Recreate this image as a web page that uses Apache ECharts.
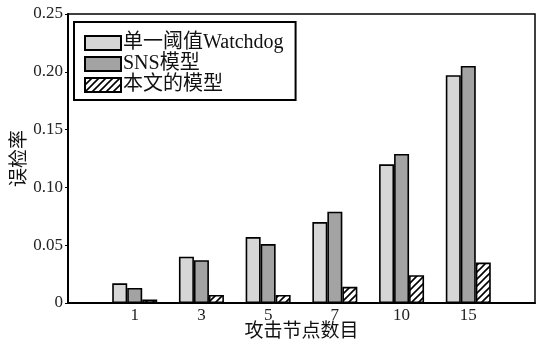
<!DOCTYPE html>
<html>
<head>
<meta charset="utf-8">
<script src="https://cdn.jsdelivr.net/npm/echarts@6/dist/echarts.min.js"></script>
<style>
  html, body { margin: 0; padding: 0; background: #fff; }
  #chart { width: 536px; height: 349px; }
</style>
</head>
<body>
<div id="chart"></div>
<script>
// Attack node counts (padded with empty slots at both ends)
const categories = ['', '1', '3', '5', '7', '10', '15', ''];
const watchdogRate = [null, 0.017, 0.040, 0.057, 0.070, 0.120, 0.197, null];
const snsRate      = [null, 0.013, 0.037, 0.051, 0.079, 0.129, 0.205, null];
const oursRate     = [null, 0.003, 0.007, 0.007, 0.014, 0.024, 0.035, null];
const seriesNames = ['单一阈值Watchdog', 'SNS模型', '本文的模型'];
const yTicks = [0, 0.05, 0.10, 0.15, 0.20, 0.25];

// diagonal hatch fill
function hatch() {
  const c = document.createElement('canvas');
  c.width = 7; c.height = 7;
  const g = c.getContext('2d');
  g.fillStyle = '#fff';
  g.fillRect(0, 0, 7, 7);
  g.strokeStyle = '#000';
  g.lineWidth = 1.6;
  g.beginPath();
  g.moveTo(-1, 8); g.lineTo(8, -1);
  g.moveTo(-4.5, 4.5); g.lineTo(4.5, -4.5);
  g.moveTo(2.5, 11.5); g.lineTo(11.5, 2.5);
  g.stroke();
  return c;
}

const serif = '"Liberation Serif", "Noto Sans CJK SC", serif';
const chart = echarts.init(document.getElementById('chart'));

function bar(name, data, fill) {
  return {
    name, type: 'bar', data,
    barWidth: 15, barGap: '0%',
    itemStyle: { color: fill, borderColor: '#000', borderWidth: 1.6 },
    emphasis: { disabled: true }
  };
}

chart.setOption({
  animation: false,
  grid: {
    left: 68, top: 14, right: 1, bottom: 46,
    outerBoundsMode: 'none', containLabel: false,
    show: true, borderColor: '#000', borderWidth: 1.5
  },
  legend: {
    orient: 'vertical', left: 74, top: 22,
    icon: 'rect',
    itemWidth: 36, itemHeight: 14, itemGap: 1,
    padding: [11, 12, 5, 10],
    borderColor: '#000', borderWidth: 2,
    itemStyle: { borderColor: '#000', borderWidth: 2 },
    textStyle: { fontFamily: serif, fontSize: 20, color: '#111', lineHeight: 18, padding: [0, 0, 0, -3] },
    data: seriesNames
  },
  xAxis: {
    type: 'category', data: categories, boundaryGap: false,
    name: '攻击节点数目', nameLocation: 'middle', nameGap: 20, nameMoveOverlap: false,
    nameTextStyle: { fontFamily: serif, fontSize: 19, color: '#111' },
    axisLine: { lineStyle: { color: '#000', width: 2 } },
    axisTick: { show: false },
    axisLabel: { fontFamily: serif, fontSize: 17, color: '#222', margin: 4 },
    splitLine: { show: false }
  },
  yAxis: {
    type: 'value', min: 0, max: 0.25, interval: 0.05,
    name: '误检率', nameLocation: 'middle', nameGap: 38, nameRotate: 90, nameMoveOverlap: false,
    nameTextStyle: { fontFamily: serif, fontSize: 19, color: '#111' },
    axisLine: { show: true, lineStyle: { color: '#000', width: 2 } },
    axisTick: { show: true, inside: false, length: 3, lineStyle: { color: '#000' } },
    axisLabel: {
      fontFamily: serif, fontSize: 17, color: '#222', margin: 5,
      formatter: v => (yTicks.includes(Math.round(v * 100) / 100) ? (v === 0 ? '0' : v.toFixed(2)) : '')
    },
    splitLine: { show: false }
  },
  series: [
    bar(seriesNames[0], watchdogRate, '#d6d6d6'),
    bar(seriesNames[1], snsRate, '#a3a3a3'),
    bar(seriesNames[2], oursRate, { image: hatch(), repeat: 'repeat' })
  ]
});
</script>
</body>
</html>
